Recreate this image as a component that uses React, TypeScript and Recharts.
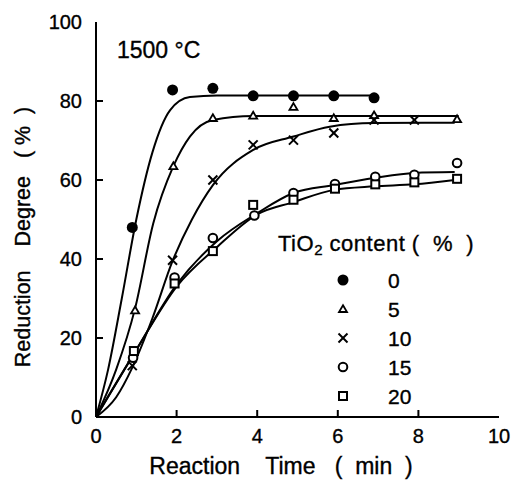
import React from 'react';
import { ComposedChart, Line, Scatter, XAxis, YAxis, Legend } from 'recharts';

const TIME_TICKS = [0, 2, 4, 6, 8, 10];
const RD_TICKS = [0, 20, 40, 60, 80, 100];
const TIO2_LEVELS = ['0', '5', '10', '15', '20'];
const SHAPES = ['dot', 'triangle', 'cross', 'circle', 'square'];

// measured points (t in min, v = reduction degree %)
const pts0 = [
  { t: 0.9, v: 48 }, { t: 1.9, v: 82.8 }, { t: 2.9, v: 83.2 },
  { t: 3.9, v: 81.3 }, { t: 4.9, v: 81.3 }, { t: 5.9, v: 81.3 }, { t: 6.9, v: 80.8 },
];
const pts5 = [
  { t: 0.97, v: 27 }, { t: 1.92, v: 63.5 }, { t: 2.9, v: 75.7 }, { t: 3.9, v: 76.3 },
  { t: 4.9, v: 78.5 }, { t: 5.9, v: 75.7 }, { t: 6.9, v: 76.4 }, { t: 8.96, v: 75.4 },
];
const pts10 = [
  { t: 0.9, v: 13 }, { t: 1.9, v: 39.7 }, { t: 2.9, v: 60 }, { t: 3.9, v: 68.9 },
  { t: 4.9, v: 70.1 }, { t: 5.9, v: 71.9 }, { t: 6.9, v: 75.2 }, { t: 7.9, v: 75.2 },
];
const pts15 = [
  { t: 0.92, v: 15 }, { t: 1.95, v: 35.3 }, { t: 2.9, v: 45.3 }, { t: 3.93, v: 51 },
  { t: 4.9, v: 56.7 }, { t: 5.93, v: 59 }, { t: 6.93, v: 60.8 }, { t: 7.9, v: 61.3 }, { t: 8.96, v: 64.3 },
];
const pts20 = [
  { t: 0.94, v: 16.7 }, { t: 1.95, v: 33.8 }, { t: 2.9, v: 42 }, { t: 3.9, v: 53.7 },
  { t: 4.9, v: 55 }, { t: 5.93, v: 57.8 }, { t: 6.93, v: 58.9 }, { t: 7.9, v: 59.4 }, { t: 8.96, v: 60.3 },
];

// fitted curves
const fit0 = [
  { t: 0, v: 0 }, { t: 0.3, v: 12 }, { t: 0.64, v: 30 }, { t: 1.0, v: 50 }, { t: 1.4, v: 67 },
  { t: 1.84, v: 77.7 }, { t: 2.33, v: 81 }, { t: 3, v: 81.4 }, { t: 7, v: 81.4 },
];
const fit5 = [
  { t: 0, v: 0 }, { t: 0.5, v: 12 }, { t: 0.97, v: 27.5 }, { t: 1.42, v: 49 }, { t: 1.92, v: 63.5 },
  { t: 2.33, v: 71 }, { t: 2.9, v: 75.2 }, { t: 3.9, v: 76.2 }, { t: 9, v: 76.2 },
];
const fit10 = [
  { t: 0, v: 0 }, { t: 0.5, v: 5 }, { t: 0.9, v: 12.5 }, { t: 1.4, v: 25 }, { t: 1.9, v: 39.5 },
  { t: 2.38, v: 50 }, { t: 2.9, v: 58.7 }, { t: 3.9, v: 67.6 }, { t: 4.9, v: 71 },
  { t: 5.8, v: 73.5 }, { t: 6.9, v: 74.4 }, { t: 8.9, v: 74.5 },
];
const fit15 = [
  { t: 0, v: 0 }, { t: 1, v: 17 }, { t: 2, v: 33.5 }, { t: 3, v: 44.5 }, { t: 4, v: 51.6 },
  { t: 4.9, v: 56.7 }, { t: 5.9, v: 58.7 }, { t: 6.9, v: 60.5 }, { t: 7.9, v: 61.8 }, { t: 8.9, v: 62 },
];
const fit20 = [
  { t: 0, v: 0 }, { t: 1, v: 17 }, { t: 2, v: 33 }, { t: 3, v: 43 }, { t: 4, v: 51.3 },
  { t: 4.9, v: 54.4 }, { t: 5.9, v: 57.5 }, { t: 6.9, v: 58.4 }, { t: 7.9, v: 58.9 }, { t: 8.9, v: 60 },
];

const POINTS = [pts0, pts5, pts10, pts15, pts20];
const FITS = [fit0, fit5, fit10, fit15, fit20];

const FONT = '"Liberation Sans", Arial, sans-serif';
const INK = '#000';
// slight outline so the text reads as heavy as the scanned original
const TEXT_STYLE = { stroke: INK, strokeWidth: 0.35, whiteSpace: 'pre' as const };

const Marker = ({ kind, cx, cy }: { kind: string; cx: number; cy: number }) => {
  if (kind === 'dot') return <circle cx={cx} cy={cy} r={5.5} fill={INK} />;
  if (kind === 'triangle')
    return (
      <polygon
        points={`${cx},${cy - 3.8} ${cx + 4},${cy + 3} ${cx - 4},${cy + 3}`}
        fill="#fff"
        stroke={INK}
        strokeWidth={1.8}
      />
    );
  if (kind === 'cross')
    return (
      <g stroke={INK} strokeWidth={2}>
        <line x1={cx - 4.5} y1={cy - 4.5} x2={cx + 4.5} y2={cy + 4.5} />
        <line x1={cx - 4.5} y1={cy + 4.5} x2={cx + 4.5} y2={cy - 4.5} />
      </g>
    );
  if (kind === 'circle') return <circle cx={cx} cy={cy} r={4.3} fill="#fff" stroke={INK} strokeWidth={2} />;
  return <rect x={cx - 4} y={cy - 4} width={8} height={8} fill="#fff" stroke={INK} strokeWidth={2} />;
};

const BottomTick = ({ x, y, payload }: any) => (
  <g>
    {payload.value > 0 && payload.value < 10 && (
      <line x1={x} x2={x} y1={y} y2={y - 7} stroke={INK} strokeWidth={2} />
    )}
    <text x={x} y={y + 19} textAnchor="middle" dominantBaseline="central" fontSize={20} fontFamily={FONT} fill={INK} style={TEXT_STYLE}>
      {payload.value}
    </text>
  </g>
);

const TopTick = ({ x, y, payload }: any) =>
  payload.value > 0 && payload.value < 10 ? (
    <line x1={x} x2={x} y1={y} y2={y + 7} stroke={INK} strokeWidth={2} />
  ) : (
    <g />
  );

const LeftTick = ({ x, y, payload }: any) => (
  <g>
    {payload.value > 0 && payload.value < 100 && (
      <line x1={x} x2={x + 7} y1={y} y2={y} stroke={INK} strokeWidth={2} />
    )}
    <text x={x - 14} y={y} textAnchor="end" dominantBaseline="central" fontSize={20} fontFamily={FONT} fill={INK} style={TEXT_STYLE}>
      {payload.value}
    </text>
  </g>
);

const RightTick = ({ x, y, payload }: any) =>
  payload.value > 0 && payload.value < 100 ? (
    <line x1={x} x2={x - 7} y1={y} y2={y} stroke={INK} strokeWidth={2} />
  ) : (
    <g />
  );

const LegendBox = () => (
  <svg width={210} height={190} style={{ display: 'block', overflow: 'visible' }}>
    <text x={0} y={18} dominantBaseline="central" fontSize={22} fontFamily={FONT} fill={INK} letterSpacing={0.5} style={TEXT_STYLE}>
      TiO<tspan fontSize={15} dy={6}>2</tspan>
      <tspan dy={-6}>{' content (  %  )'}</tspan>
    </text>
    {TIO2_LEVELS.map((lvl, i) => (
      <g key={lvl}>
        <Marker kind={SHAPES[i]} cx={65} cy={55 + i * 29} />
        <text x={110} y={55 + i * 29} dominantBaseline="central" fontSize={21} fontFamily={FONT} fill={INK} style={TEXT_STYLE}>
          {lvl}
        </text>
      </g>
    ))}
  </svg>
);

export default function App() {
  return (
    <div style={{ position: 'absolute', left: 0, top: 0, width: 518, height: 489, background: '#fff' }}>
      <ComposedChart width={518} height={489} margin={{ top: 22, right: 19, bottom: 42, left: 36 }}>
        <XAxis
          dataKey="t"
          type="number"
          domain={[0, 10]}
          ticks={TIME_TICKS}
          height={30}
          tickSize={0}
          tickMargin={0}
          tickLine={false}
          tick={<BottomTick />}
          axisLine={{ stroke: INK, strokeWidth: 2 }}
          allowDataOverflow
          label={{
            content: () => (
              <text x={281} y={466} textAnchor="middle" dominantBaseline="central" fontSize={23} fontFamily={FONT} fill={INK} style={TEXT_STYLE}>
                {'Reaction    Time   (  min  )'}
              </text>
            ),
          }}
        />
        <XAxis
          xAxisId="top"
          orientation="top"
          dataKey="t"
          type="number"
          domain={[0, 10]}
          ticks={TIME_TICKS}
          height={0}
          tickSize={0}
          tickMargin={0}
          tickLine={false}
          tick={<TopTick />}
          axisLine={{ stroke: INK, strokeWidth: 2 }}
        />
        <YAxis
          type="number"
          domain={[0, 100]}
          ticks={RD_TICKS}
          width={60}
          tickSize={0}
          tickMargin={0}
          tickLine={false}
          tick={<LeftTick />}
          axisLine={{ stroke: INK, strokeWidth: 2 }}
          label={{
            content: () => (
              <text transform="translate(23,237) rotate(-90)" textAnchor="middle" dominantBaseline="central" fontSize={21.5} fontFamily={FONT} fill={INK} style={TEXT_STYLE}>
                {'Reduction    Degree   ( %  )'}
              </text>
            ),
          }}
        />
        <YAxis
          yAxisId="right"
          orientation="right"
          type="number"
          domain={[0, 100]}
          ticks={RD_TICKS}
          width={0}
          tickSize={0}
          tickMargin={0}
          tickLine={false}
          tick={<RightTick />}
          axisLine={{ stroke: INK, strokeWidth: 2 }}
        />
        {FITS.map((fit, i) => (
          <Line
            key={`fit-${i}`}
            data={fit}
            dataKey="v"
            type="monotone"
            stroke={INK}
            strokeWidth={2}
            dot={false}
            activeDot={false}
            legendType="none"
            isAnimationActive={false}
          />
        ))}
        {POINTS.map((pts, i) => (
          <Scatter
            key={`pts-${i}`}
            name={TIO2_LEVELS[i]}
            data={pts}
            dataKey="v"
            isAnimationActive={false}
            shape={(p: any) => <Marker kind={SHAPES[i]} cx={p.cx} cy={p.cy} />}
          />
        ))}
        <Legend
          layout="vertical"
          align="center"
          verticalAlign="middle"
          content={() => <LegendBox />}
          wrapperStyle={{ position: 'absolute', left: 278, top: 225, width: 210, height: 190 }}
        />
      </ComposedChart>
      <div
        style={{
          position: 'absolute',
          left: 117,
          top: 37,
          fontFamily: FONT,
          fontSize: 23,
          lineHeight: '26px',
          color: INK,
          whiteSpace: 'pre',
          WebkitTextStroke: '0.35px #000',
        }}
      >
        1500 °C
      </div>
    </div>
  );
}
